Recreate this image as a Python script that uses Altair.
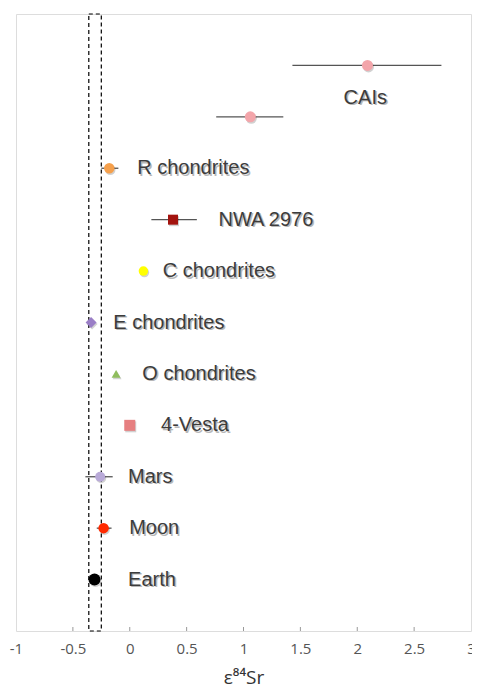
import altair as alt
import pandas as pd

# ---- data ----
names = ["CAIs", "CAIs", "R chondrites", "NWA 2976", "C chondrites", "E chondrites",
         "O chondrites", "4-Vesta", "Mars", "Moon", "Earth"]
rows = [11, 10, 9, 8, 7, 6, 5, 4, 3, 2, 1]
values = [2.09, 1.06, -0.18, 0.38, 0.12, -0.34, -0.12, 0.0, -0.26, -0.23, -0.31]
err_lo = [1.43, 0.76, -0.25, 0.19, 0.12, -0.37, -0.12, 0.0, -0.39, -0.29, -0.31]
err_hi = [2.74, 1.35, -0.10, 0.59, 0.12, -0.31, -0.12, 0.0, -0.15, -0.16, -0.31]
shapes = ["circle", "circle", "circle", "square", "circle", "diamond",
          "triangle-up", "square", "circle", "circle", "circle"]
colors = ["#f3a5aa", "#f3a5aa", "#f5a04c", "#a3130e", "#ffff00", "#9a7ec6",
          "#8fbd5e", "#e67f80", "#b9aad8", "#ff2a00", "#000000"]
sizes = [121, 121, 110, 100, 90, 120, 80, 121, 100, 110, 144]

label_text = ["CAIs", "R chondrites", "NWA 2976", "C chondrites", "E chondrites",
              "O chondrites", "4-Vesta", "Mars", "Moon", "Earth"]
label_row = [10.37, 9, 8, 7, 6, 5, 4, 3, 2, 1]
label_x = [1.88, 0.065, 0.78, 0.29, -0.145, 0.11, 0.275, -0.015, -0.005, -0.015]

band_lo = [-0.36]
band_hi = [-0.25]

tick_values = [-1, -0.5, 0, 0.5, 1, 1.5, 2, 2.5, 3]
inner_ticks = [-0.5, 0, 0.5, 1, 1.5, 2, 2.5]

pts = pd.DataFrame({"name": names, "row": rows, "v": values, "lo": err_lo,
                    "hi": err_hi, "shape": shapes, "color": colors, "size": sizes})
labels = pd.DataFrame({"text": label_text, "row": label_row, "x": label_x})
band = pd.DataFrame({"lo": band_lo, "hi": band_hi, "y0": [0], "y1": [12]})
ticks = pd.DataFrame({"t": inner_ticks})

W, H = 455, 617
xscale = alt.Scale(domain=[-1, 3], nice=False, zero=False)
yscale = alt.Scale(domain=[0, 12], nice=False, zero=False)

xaxis = alt.Axis(values=tick_values, grid=False, tickSize=0, domain=False,
                 labelFont="Open Sans", labelFontSize=15, labelColor="#555555",
                 labelPadding=10, labelFlush=False,
                 labelExpr="toString(datum.value)",
                 title="ε⁸⁴Sr", titleFont="Open Sans", titleFontSize=19,
                 titleColor="#333333", titleFontWeight="normal", titlePadding=12)

rect = alt.Chart(band).mark_rect(fill=None, stroke="#000000", strokeDash=[4, 3],
                                 strokeWidth=1.2).encode(
    x=alt.X("lo:Q", scale=xscale, axis=xaxis),
    x2="hi:Q",
    y=alt.Y("y0:Q", scale=yscale, axis=None),
    y2="y1:Q",
)

tickmarks = alt.Chart(ticks).mark_rule(color="#999999", strokeWidth=1).encode(
    x=alt.X("t:Q", scale=xscale),
    y=alt.value(H),
    y2=alt.value(H - 4),
)

errs = alt.Chart(pts).mark_rule(color="#555555", strokeWidth=1.3).encode(
    x=alt.X("lo:Q", scale=xscale),
    x2="hi:Q",
    y=alt.Y("row:Q", scale=yscale, axis=None),
)

shadow_pts = alt.Chart(pts).mark_point(filled=True, opacity=0.18, color="#000000").encode(
    x=alt.X("v:Q", scale=xscale),
    y=alt.Y("row:Q", scale=yscale, axis=None),
    shape=alt.Shape("shape:N", scale=None),
    size=alt.Size("size:Q", scale=None),
    xOffset=alt.value(1),
    yOffset=alt.value(1.5),
)

points = alt.Chart(pts).mark_point(filled=True, opacity=1).encode(
    x=alt.X("v:Q", scale=xscale),
    y=alt.Y("row:Q", scale=yscale, axis=None),
    shape=alt.Shape("shape:N", scale=None),
    size=alt.Size("size:Q", scale=None),
    color=alt.Color("color:N", scale=None),
)

text_shadow = alt.Chart(labels).mark_text(align="left", baseline="middle",
                                          font="Liberation Sans", fontSize=20,
                                          color="#9a9a9a", dx=1.5, dy=1.5,
                                          opacity=0.7).encode(
    x=alt.X("x:Q", scale=xscale),
    y=alt.Y("row:Q", scale=yscale, axis=None),
    text="text:N",
)

text = alt.Chart(labels).mark_text(align="left", baseline="middle",
                                   font="Liberation Sans", fontSize=20,
                                   color="#3c3c3c").encode(
    x=alt.X("x:Q", scale=xscale),
    y=alt.Y("row:Q", scale=yscale, axis=None),
    text="text:N",
)

chart = alt.layer(rect, tickmarks, errs, shadow_pts, points, text_shadow, text).properties(
    width=W, height=H,
    autosize=alt.AutoSizeParams(type="none"),
    padding={"left": 8, "top": 6, "right": 1, "bottom": 57},
).configure_view(stroke="#8a8a8a", strokeWidth=1.5).configure(background="white")

chart.save("out.html", embed_options={"renderer": "svg", "actions": False})
